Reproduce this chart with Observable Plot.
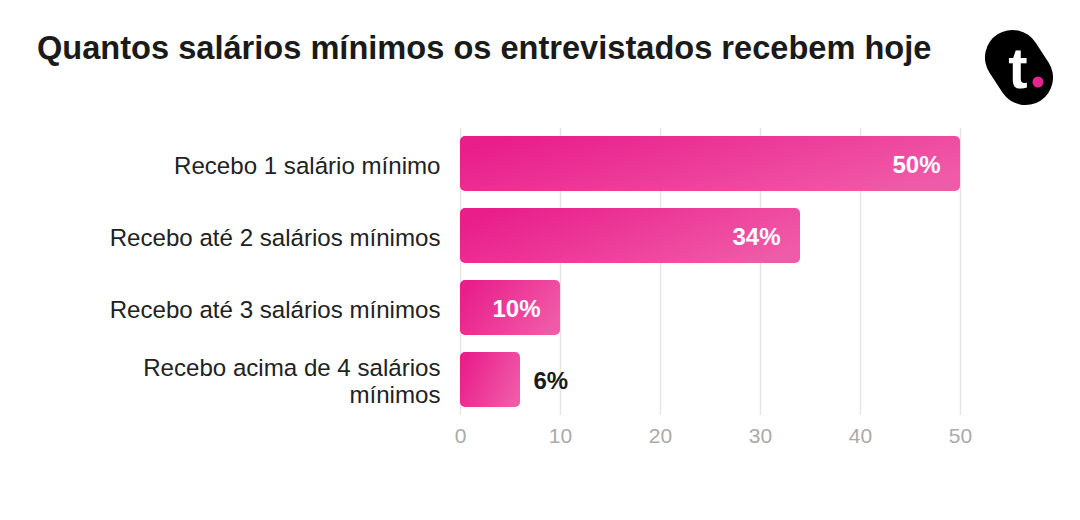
<!DOCTYPE html>
<html><head><meta charset="utf-8">
<script src="https://cdn.jsdelivr.net/npm/d3@7"></script>
<script src="https://cdn.jsdelivr.net/npm/@observablehq/plot@0.6"></script>
<style>
html,body{margin:0;padding:0;background:#fff;}
#wrap{position:relative;width:1080px;height:520px;font-family:"Liberation Sans",Arial,sans-serif;}
#title{position:absolute;left:37px;top:29px;margin:0;font-size:32.6px;line-height:1.15;font-weight:bold;color:#1a1a1a;white-space:nowrap;}
#logo{position:absolute;left:0;top:0;}
</style>
</head><body>
<div id="wrap">
<div id="chart"></div>
<h1 id="title">Quantos salários mínimos os entrevistados recebem hoje</h1>
<svg id="logo" width="1080" height="130" viewBox="0 0 1080 130">
  <rect x="991.5" y="28" width="55" height="79" rx="27.5" fill="#000" transform="rotate(-33 1019 67.5)"/>
  <text x="1018" y="88" text-anchor="middle" font-family="Liberation Sans, Arial, sans-serif" font-weight="bold" font-size="58" fill="#fff">t</text>
  <circle cx="1038" cy="82" r="5.5" fill="#e5258f"/>
</svg>
</div>
<script>
const categories = ["Recebo 1 salário mínimo","Recebo até 2 salários mínimos","Recebo até 3 salários mínimos","Recebo acima de 4 salários mínimos"];
const displayLabels = ["Recebo 1 salário mínimo","Recebo até 2 salários mínimos","Recebo até 3 salários mínimos","Recebo acima de 4 salários\nmínimos"];
const values = [50, 34, 10, 6];
const xTicks = [0, 10, 20, 30, 40, 50];

const data = categories.map((c, i) => ({cat: c, label: displayLabels[i], value: values[i]}));
const inside = data.filter(d => d.value >= 10);
const outside = data.filter(d => d.value < 10);

function defs() {
  const ns = "http://www.w3.org/2000/svg";
  const d = document.createElementNS(ns, "defs");
  const g = document.createElementNS(ns, "linearGradient");
  g.setAttribute("id", "barGrad");
  g.setAttribute("x1", "0"); g.setAttribute("y1", "0.3");
  g.setAttribute("x2", "1"); g.setAttribute("y2", "0.7");
  [["0%", "#e91e8b"], ["100%", "#f05ba8"]].forEach(([o, c]) => {
    const s = document.createElementNS(ns, "stop");
    s.setAttribute("offset", o); s.setAttribute("stop-color", c);
    g.appendChild(s);
  });
  d.appendChild(g);
  return d;
}

const chart = Plot.plot({
  width: 1080,
  height: 520,
  marginLeft: 460,
  marginRight: 120,
  marginTop: 128,
  marginBottom: 105,
  style: {fontFamily: "Liberation Sans, Arial, sans-serif", background: "#fff"},
  x: {domain: [0, 50], axis: null},
  y: {domain: categories, axis: null, paddingInner: 0.236, paddingOuter: 0.111},
  marks: [
    defs,
    Plot.ruleX(xTicks, {stroke: "#e6e6e6", strokeWidth: 1.6}),
    Plot.axisX({ticks: xTicks, tickSize: 0, tickPadding: 13, fontSize: 21, color: "#aaaaaa", anchor: "bottom", label: null}),
    Plot.barX(data, {x: "value", y: "cat", fill: "url(#barGrad)", rx: 5}),
    Plot.text(data, {x: 0, y: "cat", text: "label", textAnchor: "end", dx: -20, dy: 1, fontSize: 24.1, fill: "#222", lineHeight: 1.12}),
    Plot.text(inside, {x: "value", y: "cat", text: d => d.value + "%", textAnchor: "end", dx: -20, dy: 1, fontSize: 24, fontWeight: "bold", fill: "#fff"}),
    Plot.text(outside, {x: "value", y: "cat", text: d => d.value + "%", textAnchor: "start", dx: 13, dy: 1, fontSize: 24, fontWeight: "bold", fill: "#1a1a1a"})
  ]
});
document.getElementById("chart").appendChild(chart);
</script>
</body></html>
